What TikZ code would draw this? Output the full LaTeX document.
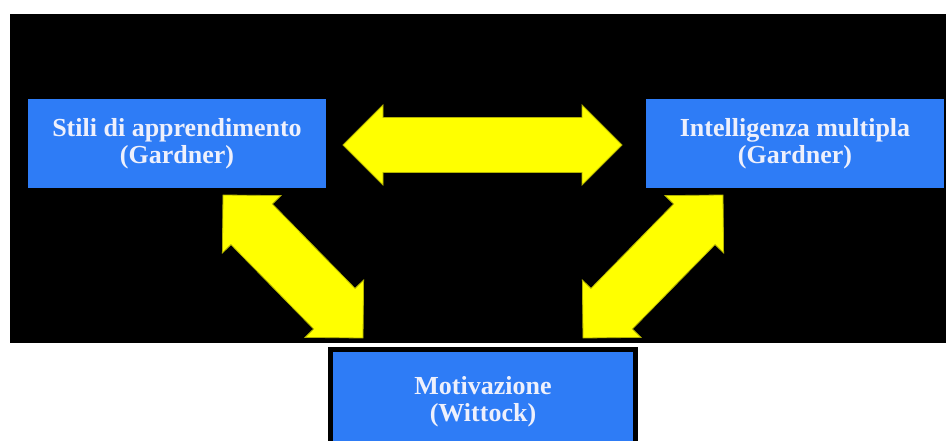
\documentclass[tikz,border=0pt]{standalone}
\usepackage{fontspec}
\setmainfont{Liberation Serif}
\usetikzlibrary{calc}
\definecolor{boxblue}{RGB}{46,124,246}
\definecolor{arrowyellow}{RGB}{255,255,0}
\definecolor{txtwhite}{RGB}{238,240,252}
\newcommand\dblarrow[5]{% tip a, tip b, head length, head half width, shaft half width
  \fill[arrowyellow, draw=black!30!arrowyellow, line width=0.8pt]
    (#1) -- ($(#1)!#3!(#2)!#4!90:(#2)$) -- ($(#1)!#3!(#2)!#5!90:(#2)$)
    -- ($(#2)!#3!(#1)!#5!-90:(#1)$) -- ($(#2)!#3!(#1)!#4!-90:(#1)$)
    -- (#2) -- ($(#2)!#3!(#1)!#4!90:(#1)$) -- ($(#2)!#3!(#1)!#5!90:(#1)$)
    -- ($(#1)!#3!(#2)!#5!-90:(#2)$) -- ($(#1)!#3!(#2)!#4!-90:(#2)$) -- cycle;}
\tikzset{
  bluebox/.style={rectangle, fill=boxblue, text=txtwhite, align=center,
    font=\fontsize{26pt}{27pt}\selectfont\bfseries, inner sep=0pt},
}
\begin{document}
\begin{tikzpicture}[x=1pt, y=-1pt]
\clip (0,0) rectangle (946,441);
\fill[white] (0,0) rectangle (946,441);
\fill[black] (10,14) rectangle (945.5,343);
\node[bluebox, minimum width=298pt, minimum height=89pt] (stili) at (177,143.5)
  {Stili di apprendimento\\(Gardner)};
\node[bluebox, minimum width=298pt, minimum height=89pt] (intel) at (795,143.5)
  {Intelligenza multipla\\(Gardner)};
\node[bluebox, draw=black, line width=5pt, minimum width=305pt, minimum height=104pt] (motiv) at (483,401.5)
  {Motivazione\\(Wittock)};
% arrow tips
\coordinate (h1) at (343,145);
\coordinate (h2) at (622,145);
\coordinate (l1) at (223,195);
\coordinate (l2) at (363,338);
\coordinate (r1) at (723,195);
\coordinate (r2) at (583,338);
\dblarrow{h1}{h2}{40pt}{40pt}{27.5pt}
\dblarrow{l1}{l2}{41pt}{41pt}{29pt}
\dblarrow{r1}{r2}{41pt}{41pt}{29pt}
\end{tikzpicture}
\end{document}
